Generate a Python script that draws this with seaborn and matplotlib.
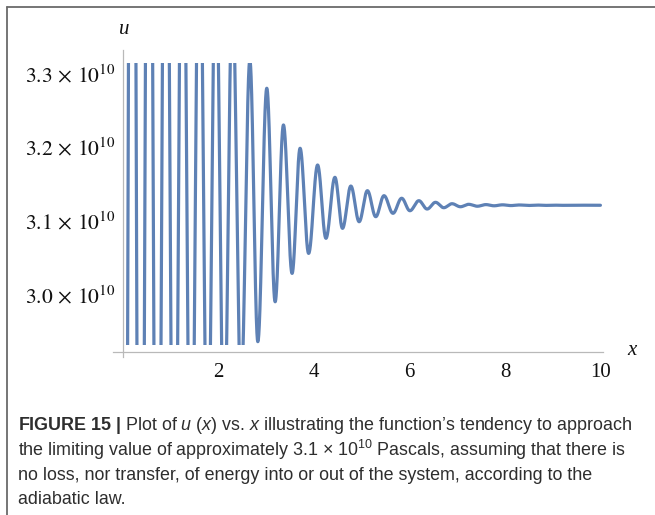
import numpy as np
import pandas as pd
import matplotlib
matplotlib.use("Agg")
import matplotlib.pyplot as plt
from matplotlib import font_manager
from matplotlib.patches import Rectangle
from matplotlib.lines import Line2D
from matplotlib.ticker import FixedLocator, MultipleLocator
import seaborn as sns

# Turning points of u(x): position x and value u (in units of 1e10 Pa)
x_turn = [0.005, 0.182, 0.358, 0.535, 0.711, 0.888, 1.064, 1.240, 1.417, 1.593,
          1.765, 1.935, 2.110, 2.285, 2.465, 2.651, 2.818, 3.006, 3.181, 3.355,
          3.536, 3.704, 3.883, 4.071, 4.246, 4.434, 4.593, 4.768, 4.942, 5.115,
          5.290, 5.463, 5.651, 5.833, 6.006, 6.194, 6.367, 6.543, 6.716, 6.889,
          7.065, 7.238, 7.420, 7.599, 7.770, 7.948, 8.124, 8.301, 8.477, 8.654,
          8.830, 9.007, 9.183, 9.360, 9.537, 9.713, 9.890, 10.000]
u_turn = [1.82, 4.27, 2.10, 4.02, 2.32, 3.83, 2.49, 3.68, 2.62, 3.57,
          2.72, 3.48, 2.80, 3.41, 2.87, 3.318, 2.936, 3.2797, 2.9901, 3.2299,
          3.0286, 3.1983, 3.0557, 3.1756, 3.0762, 3.1589, 3.0897, 3.1471, 3.0987, 3.1408,
          3.1055, 3.1340, 3.1101, 3.1305, 3.1136, 3.1272, 3.1159, 3.1250, 3.1177, 3.1231,
          3.1190, 3.1223, 3.1197, 3.1219, 3.1203, 3.1216, 3.1206, 3.1214, 3.1207, 3.1213,
          3.1208, 3.1212, 3.1209, 3.1211, 3.1210, 3.1211, 3.1210, 3.1210]
UNIT = 1e10

# Plot range (values outside are not drawn) and axis extents
u_range = (2.9315, 3.3136)
u_axis = (2.9152, 3.3316)
u_origin = 2.9216
x_axis = (-0.218, 10.117)

y_ticks = [3.0, 3.1, 3.2, 3.3]
y_tick_labels = [r"$3.0\,\times\,10^{10}$", r"$3.1\,\times\,10^{10}$",
                 r"$3.2\,\times\,10^{10}$", r"$3.3\,\times\,10^{10}$"]
x_ticks = [2, 4, 6, 8, 10]
x_tick_labels = ["2", "4", "6", "8", "10"]

caption = [
    r"$\mathbf{FIGURE\ 15\ |}$ Plot of $\mathit{u}$ ($\mathit{x}$) vs. $\mathit{x}$ "
    r"illustrating the function’s tendency to approach",
    r"the limiting value of approximately 3.1 $\times$ 10$^{10}$ Pascals, "
    r"assuming that there is",
    "no loss, nor transfer, of energy into or out of the system, according to the",
    "adiabatic law.",
]

# smooth curve through the turning points (half-cosine between neighbours)
t = np.linspace(0.0, 1.0, 160)
shape = (1 - np.cos(np.pi * t)) / 2
xs, us = [], []
for i in range(len(x_turn) - 1):
    seg_x = x_turn[i] + (x_turn[i + 1] - x_turn[i]) * t
    seg_u = u_turn[i] + (u_turn[i + 1] - u_turn[i]) * shape
    if i < len(x_turn) - 2:
        seg_x, seg_u = seg_x[:-1], seg_u[:-1]
    xs.append(seg_x)
    us.append(seg_u)
df = pd.DataFrame({"x": np.concatenate(xs), "u": np.concatenate(us) * UNIT})

sns.set_theme(style="white")
plt.rcParams["font.family"] = ["Liberation Serif", "DejaVu Serif"]

available = {f.name for f in font_manager.fontManager.ttflist}
cap_font = "Liberation Sans Narrow" if "Liberation Sans Narrow" in available else "Liberation Sans"
cap_size = 15.6 if cap_font == "Liberation Sans Narrow" else 12.9
plt.rcParams["mathtext.fontset"] = "custom"
plt.rcParams["mathtext.rm"] = cap_font
plt.rcParams["mathtext.it"] = cap_font + ":italic"
plt.rcParams["mathtext.bf"] = cap_font + ":bold"

W, H = 655, 515
fig = plt.figure(figsize=(W / 100, H / 100), dpi=100)
fig.patch.set_facecolor("white")

ax = fig.add_axes([113 / W, (H - 357) / H, 493 / W, 307 / H])
ax.set_facecolor("white")

sns.lineplot(data=df, x="x", y="u", ax=ax, color="#5E81B5", linewidth=2.3,
             estimator=None, sort=False)
curve = ax.lines[-1]
clip = Rectangle((x_axis[0], u_range[0] * UNIT), x_axis[1] - x_axis[0],
                 (u_range[1] - u_range[0]) * UNIT, transform=ax.transData)
curve.set_clip_path(clip)

ax.set_xlim(*x_axis)
ax.set_ylim(u_axis[0] * UNIT, u_axis[1] * UNIT)
ax.set_xlabel("")
ax.set_ylabel("")

axis_color = "#b9b9b9"
for side in ("top", "right"):
    ax.spines[side].set_visible(False)
ax.spines["left"].set_position(("data", 0))
ax.spines["bottom"].set_position(("data", u_origin * UNIT))
ax.spines["bottom"].set_bounds(x_axis[0], 10.05)
for side in ("left", "bottom"):
    ax.spines[side].set_color(axis_color)
    ax.spines[side].set_linewidth(0.9)

ax.yaxis.set_major_locator(FixedLocator([v * UNIT for v in y_ticks]))
ax.yaxis.set_minor_locator(MultipleLocator(0.02 * UNIT))
ax.xaxis.set_major_locator(FixedLocator(x_ticks))
ax.xaxis.set_minor_locator(MultipleLocator(0.5))
ax.set_yticklabels(y_tick_labels)
ax.set_xticklabels(x_tick_labels)
ax.tick_params(which="major", direction="in", length=5, width=0.8,
               color=axis_color, labelcolor="#111111")
ax.tick_params(which="minor", direction="in", length=3, width=0.7, color=axis_color)
ax.tick_params(axis="y", pad=6, labelsize=15.5)
ax.tick_params(axis="x", pad=8, labelsize=15)
for lab in ax.get_yticklabels():
    lab.set_math_fontfamily("stix")

fig.text(124 / W, 1 - 33.5 / H, "u", fontfamily="Liberation Serif", style="italic",
         fontsize=15, ha="center", va="baseline", color="#111111")
fig.text(632 / W, 1 - 355 / H, "x", fontfamily="Liberation Serif", style="italic",
         fontsize=15, ha="center", va="baseline", color="#111111")

baselines = [430, 455.5, 480, 503.5]
for line, yb in zip(caption, baselines):
    fig.text(18 / W, 1 - yb / H, line, fontfamily=cap_font, fontsize=cap_size,
             ha="left", va="baseline", color="#2e2e2e")

# frame around the figure panel
fig.add_artist(Line2D([6.5 / W, 6.5 / W], [0, 1 - 6.5 / H], color="#6a6a6a", linewidth=1.3))
fig.add_artist(Line2D([6.5 / W, 1], [1 - 6.5 / H, 1 - 6.5 / H], color="#6a6a6a", linewidth=1.3))

fig.savefig("out.png", dpi=100)
